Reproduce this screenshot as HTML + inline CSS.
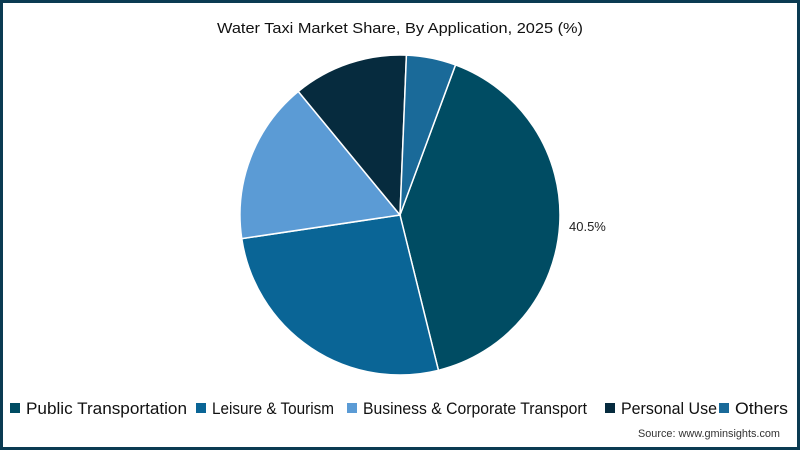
<!DOCTYPE html>
<html><head><meta charset="utf-8"><style>
body{margin:0;width:800px;height:450px;overflow:hidden;background:#fff;font-family:"Liberation Sans",sans-serif}
#frame{position:absolute;left:0;top:0;width:794px;height:444px;border:3px solid #0b3b52;background:#fff}
</style></head><body>
<div id="frame"></div>
<svg id="chart" width="800" height="450" style="position:absolute;left:0;top:0">
<text x="400" y="33" text-anchor="middle" font-size="15" fill="#111" textLength="366" lengthAdjust="spacingAndGlyphs">Water Taxi Market Share, By Application, 2025 (%)</text>
<g id="slices"></g>
<text x="569" y="231" font-size="13" fill="#222">40.5%</text>
<g id="legend"></g>
<text x="780" y="437" text-anchor="end" font-size="11" fill="#333" textLength="142" lengthAdjust="spacingAndGlyphs">Source: www.gminsights.com</text>
</svg>
<script>
const categories=["Public Transportation","Leisure & Tourism","Business & Corporate Transport","Personal Use","Others"];
const values=[40.5,26.5,16.4,11.6,5.0];
const colors=["#004c63","#0a6596","#5b9bd5","#062b3e","#1a6a99"];
const cx=400,cy=215,r=160,start=20.3;
const ns="http://www.w3.org/2000/svg";
const total=values.reduce((a,b)=>a+b,0);
let a=start;
const g=document.getElementById('slices');
function pt(deg){const t=deg*Math.PI/180;return [cx+r*Math.sin(t),cy-r*Math.cos(t)];}
values.forEach((v,i)=>{
 const span=v/total*360;const p1=pt(a),p2=pt(a+span);
 const p=document.createElementNS(ns,'path');
 p.setAttribute('d',`M${cx},${cy}L${p1[0]},${p1[1]}A${r},${r} 0 ${span>180?1:0} 1 ${p2[0]},${p2[1]}Z`);
 p.setAttribute('fill',colors[i]);p.setAttribute('stroke','#fff');p.setAttribute('stroke-width','1.5');
 
 
 g.appendChild(p);a+=span;
});
const lg=document.getElementById('legend');
const xs=[10,196,347,605,719];
const tw=[161,122,224,96,53];
categories.forEach((c,i)=>{
 const r1=document.createElementNS(ns,'rect');
 r1.setAttribute('x',xs[i]);r1.setAttribute('y',403);r1.setAttribute('width',10);r1.setAttribute('height',10);r1.setAttribute('fill',colors[i]);
 
 
 lg.appendChild(r1);
 const t=document.createElementNS(ns,'text');
 t.setAttribute('x',xs[i]+16);t.setAttribute('y',414);t.setAttribute('font-size','17');t.setAttribute('fill','#111');
 t.setAttribute('textLength',tw[i]);t.setAttribute('lengthAdjust','spacingAndGlyphs');
 t.textContent=c;
 
 
 lg.appendChild(t);
});
</script>
</body></html>
